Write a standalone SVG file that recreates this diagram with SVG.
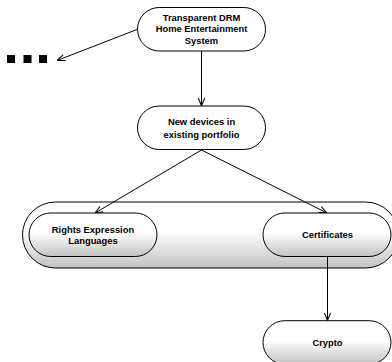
<svg xmlns="http://www.w3.org/2000/svg" width="392" height="362" viewBox="0 0 392 362">
<defs>
<linearGradient id="g" x1="0" y1="0" x2="0" y2="1">
<stop offset="0" stop-color="#ffffff"/>
<stop offset="0.45" stop-color="#ffffff"/>
<stop offset="1" stop-color="#c2c2c2"/>
</linearGradient>
<marker id="arr" viewBox="0 0 10 10" refX="10" refY="5" markerWidth="8" markerHeight="8" orient="auto" markerUnits="userSpaceOnUse">
<path d="M0,1 L10,5 L0,9" fill="none" stroke="#000" stroke-width="1.3"/>
</marker>
<style>
.n{stroke:#000;stroke-width:1;}
.w{fill:#fff;}
.gr{fill:url(#g);}
.t{font-family:"Liberation Sans",Arial,sans-serif;font-weight:bold;font-size:9.4px;fill:#000;text-anchor:middle;}
.c{stroke:#000;stroke-width:1;fill:none;marker-end:url(#arr);}
.sq{fill:#000;}
</style>
</defs>
<rect width="392" height="362" fill="#fff"/>
<g id="container">
<rect class="n gr" x="22.5" y="202" width="376" height="66" rx="33" ry="33"/>
</g>
<g id="connectors">
<line class="c" x1="137" y1="29.5" x2="57" y2="60.5"/>
<line class="c" x1="201.5" y1="51" x2="201.5" y2="106"/>
<line class="c" x1="201.5" y1="150" x2="95" y2="213"/>
<line class="c" x1="201.5" y1="150" x2="327" y2="213"/>
<line class="c" x1="327.5" y1="256.5" x2="327.5" y2="320.5"/>
</g>
<g id="ellipsis">
<rect class="sq" x="7" y="55" width="8" height="8"/>
<rect class="sq" x="23.5" y="55" width="8" height="8"/>
<rect class="sq" x="39" y="55" width="8" height="8"/>
</g>
<g id="node-top">
<rect class="n w" x="137.5" y="7.5" width="128" height="43.5" rx="21.75"/>
<text class="t" x="201.5" y="20.6">Transparent DRM</text>
<text class="t" x="201.5" y="32.4">Home Entertainment</text>
<text class="t" x="201.5" y="44">System</text>
</g>
<g id="node-new">
<rect class="n w" x="137.5" y="106" width="128" height="43.5" rx="21.75"/>
<text class="t" x="201.5" y="125">New devices in</text>
<text class="t" x="201.5" y="138">existing portfolio</text>
</g>
<g id="node-rel">
<rect class="n gr" x="29" y="213" width="128" height="43.5" rx="21.75"/>
<text class="t" x="93" y="232.6">Rights Expression</text>
<text class="t" x="93" y="244">Languages</text>
</g>
<g id="node-cert">
<rect class="n gr" x="263" y="213" width="128" height="43.5" rx="21.75"/>
<text class="t" x="327.5" y="238.3">Certificates</text>
</g>
<g id="node-crypto">
<rect class="n gr" x="263" y="320.7" width="128" height="43.5" rx="21.75"/>
<text class="t" x="327.5" y="345.6">Crypto</text>
</g>
</svg>
